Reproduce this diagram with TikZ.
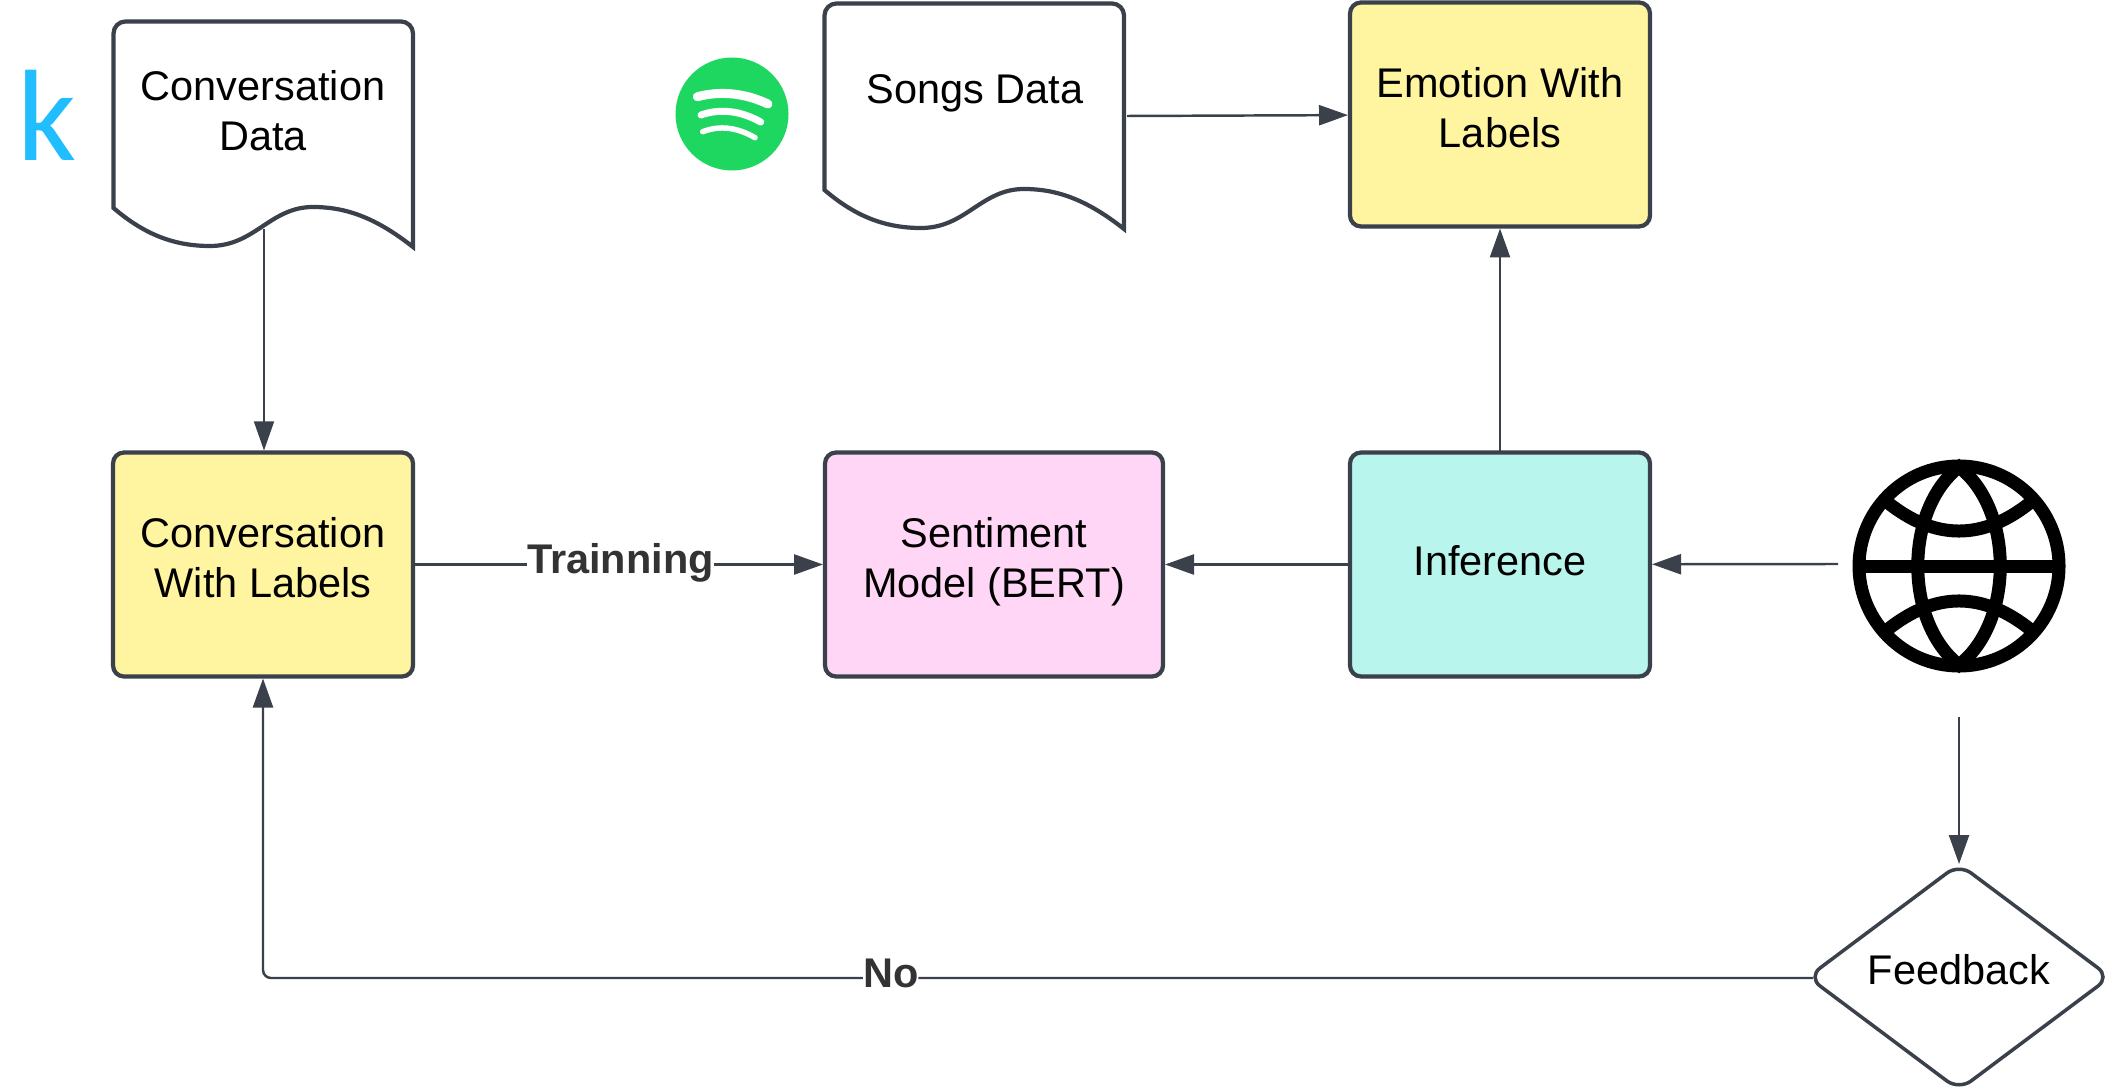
\documentclass[tikz,border=0pt]{standalone}
\usepackage{fontspec}
\setmainfont{Liberation Sans}
\newfontfamily\kagglefont{Carlito}
\usetikzlibrary{arrows.meta,shapes.geometric}
\definecolor{Ink}{HTML}{3A414A}
\definecolor{Butter}{HTML}{FFF49F}
\definecolor{Orchid}{HTML}{FFD6F6}
\definecolor{Aqua}{HTML}{B8F5ED}
\definecolor{SpotGreen}{HTML}{1ED760}
\definecolor{KaggleBlue}{HTML}{20BEFF}
\tikzset{
  boxtext/.style={font=\fontsize{11.8}{14.2}\selectfont,align=center},
  flowbox/.style={boxtext,draw=Ink,line width=1.2pt,rounded corners=0.11cm,minimum height=2.24cm,inner sep=0pt,outer sep=0pt},
  docsheet/.style={draw=Ink,line width=1.2pt},
  flowline/.style={draw=Ink,line width=0.7pt,shorten >=0.02cm},
  edgelabel/.style={font=\fontsize{11.8}{14}\selectfont\bfseries,text=black!80,fill=white,inner sep=0pt,outer sep=0pt},
  waveline/.style={white,line cap=round},
  globeline/.style={draw=black,line width=0.13cm}
}
\begin{document}
\begin{tikzpicture}[>={Triangle[length=2.9mm,width=2mm]},x=1cm,y=-1cm]
  \useasboundingbox (0,0) rectangle (21.17,10.89);

  % document sheets
  \foreach \dx/\dy in {0/0,7.11/-0.18} {
    \draw[docsheet,shift={(\dx,\dy)}] (1.135,2.08) [rounded corners=0.12cm] -- (1.135,0.215) -- (4.13,0.215)
      [sharp corners] -- (4.13,2.47)
      .. controls (3.75,2.17) and (3.45,2.07) .. (3.13,2.07)
      .. controls (2.70,2.07) and (2.55,2.46) .. (2.10,2.46)
      .. controls (1.75,2.46) and (1.45,2.35) .. cycle;
  }
  \node[boxtext] (convdata) at (2.63, 1.11) {Conversation\\Data};
  \node[boxtext] (songsdata) at (9.75, 0.93) {Songs Data};
  \coordinate (convdataout) at (2.64, 2.29);
  \coordinate (songsout) at (11.27, 1.16);

  % logos
  \node[font=\fontsize{37}{37}\selectfont\kagglefont,text=KaggleBlue,inner sep=0pt] (kaggle) at (0.47, 1.15) {k};
  \node[circle,fill=SpotGreen,minimum size=1.13cm,inner sep=0pt] (spotify) at (7.32, 1.14) {};
  \draw[waveline,line width=0.09cm] (6.973,0.967) .. controls (7.211,0.906) and (7.447,0.931) .. (7.68,1.04);
  \draw[waveline,line width=0.07cm] (7.01,1.15) .. controls (7.203,1.083) and (7.402,1.106) .. (7.607,1.22);
  \draw[waveline,line width=0.055cm] (7.027,1.317) .. controls (7.196,1.252) and (7.37,1.272) .. (7.55,1.377);

  % globe
  \node[circle,globeline,minimum size=2cm,inner sep=0pt,outer sep=0pt] (globe) at (19.59, 5.66) {};
  \draw[globeline] (18.59,5.66) -- (20.59,5.66);
  \draw[globeline] (19.59,4.67) .. controls (19.04,5.10) and (19.04,6.22) .. (19.59,6.65)
    .. controls (20.14,6.22) and (20.14,5.10) .. cycle;
  \draw[globeline] (18.87,5.02) .. controls (19.35,5.407) and (19.83,5.407) .. (20.31,5.02);
  \draw[globeline] (18.87,6.30) .. controls (19.35,5.913) and (19.83,5.913) .. (20.31,6.30);
  \coordinate (globein) at (18.38, 5.64);
  \coordinate (globeout) at (19.59, 7.17);

  % boxes
  \node[flowbox,fill=Butter,minimum width=3cm] (emotion) at (15.00, 1.145) {Emotion With\\Labels\\[-0.36cm]};
  \node[flowbox,fill=Butter,minimum width=3cm] (convlabels) at (2.63, 5.645) {Conversation\\With Labels\\[-0.36cm]};
  \node[flowbox,fill=Orchid,minimum width=3.38cm] (sentiment) at (9.94, 5.645) {Sentiment\\Model (BERT)\\[-0.36cm]};
  \node[flowbox,fill=Aqua,minimum width=3cm] (inference) at (15.00, 5.645) {Inference\\[-0.42cm]};

  \node[diamond,boxtext,draw=Ink,line width=1pt,rounded corners=0.15cm,aspect=1.33,minimum width=3.02cm,minimum height=2.26cm,inner sep=0pt,outer sep=0pt] (feedback) at (19.59, 9.77) {Feedback\\[-0.35cm]};
  \coordinate (feedbackin) at (19.59, 8.66);
  \coordinate (feedbackout) at (18.13, 9.78);

  % connectors
  \draw[->,flowline,line width=0.35pt] (convdataout) -- (convdataout |- convlabels.north);
  \draw[->,flowline] (songsout) -- (emotion);
  \draw[->,flowline] (convlabels) -- node[edgelabel,xshift=0.015cm,yshift=0.02cm] {Trainning} (sentiment);
  \draw[->,flowline] (inference) -- (sentiment);
  \draw[->,flowline] (inference) -- (emotion);
  \draw[->,flowline] (globein) -- (inference);
  \draw[->,flowline] (globeout) -- (feedbackin);
  \draw[->,flowline,rounded corners=0.08cm] (feedbackout) -| node[edgelabel,pos=0.2975,yshift=0.05cm] {No} (convlabels);
\end{tikzpicture}
\end{document}
